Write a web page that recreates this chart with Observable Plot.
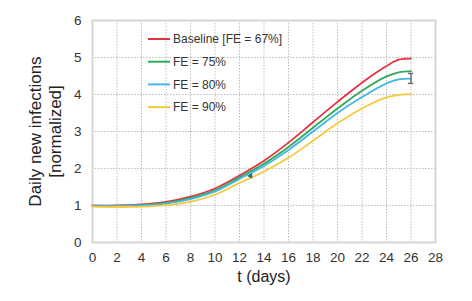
<!DOCTYPE html>
<html>
<head>
<meta charset="utf-8">
<script src="https://cdn.jsdelivr.net/npm/d3@7"></script>
<script src="https://cdn.jsdelivr.net/npm/@observablehq/plot@0.6"></script>
<style>
  html, body { margin: 0; padding: 0; background: #fff; }
  #chart { position: relative; width: 472px; height: 301px; }
  svg { font-family: "Liberation Sans", Arial, sans-serif; }
</style>
</head>
<body>
<div id="chart"></div>
<script>
// ---- data ----
const days      = [0, 2, 4, 6, 8, 10, 12, 14, 16, 18, 20, 22, 24, 25, 26];
const baseline  = [1.00, 1.00, 1.03, 1.10, 1.24, 1.46, 1.81, 2.21, 2.70, 3.25, 3.80, 4.32, 4.77, 4.94, 4.97];
const fe75      = [0.99, 0.99, 1.01, 1.07, 1.20, 1.41, 1.76, 2.13, 2.58, 3.10, 3.62, 4.10, 4.49, 4.60, 4.63];
const fe80      = [0.99, 0.98, 1.00, 1.05, 1.17, 1.38, 1.72, 2.07, 2.50, 3.00, 3.50, 3.93, 4.30, 4.41, 4.43];
const fe90      = [0.97, 0.96, 0.97, 1.01, 1.10, 1.29, 1.61, 1.92, 2.29, 2.75, 3.22, 3.62, 3.92, 3.99, 4.01];
const seriesNames  = ["Baseline [FE = 67%]", "FE = 75%", "FE = 80%", "FE = 90%"];
const seriesValues = [baseline, fe75, fe80, fe90];
const seriesColors = ["#e5323f", "#2faa5a", "#43b6e6", "#f5c93c"];
const xTicks = [0, 2, 4, 6, 8, 10, 12, 14, 16, 18, 20, 22, 24, 26, 28];
const yTicks = [0, 1, 2, 3, 4, 5, 6];
const errT = [26], errLow = [4.30], errHigh = [4.57];
const markT = [12.9], markV = [1.80];

// tidy table for the library
const rows = [];
seriesNames.forEach((name, i) => {
  days.forEach((t, j) => rows.push({series: name, t, v: seriesValues[i][j]}));
});
const errRows = errT.map((t, i) => ({t, lo: errLow[i], hi: errHigh[i]}));
const markRows = markT.map((t, i) => ({t, v: markV[i]}));

const capHalf = 0.22;
const grid = {stroke: "#bdbdbd", strokeOpacity: 1, strokeDasharray: "1.5,1.5", strokeWidth: 1};

const chart = Plot.plot({
  width: 472,
  height: 301,
  marginLeft: 92,
  marginRight: 37,
  marginTop: 20,
  marginBottom: 59,
  style: {fontFamily: '"Liberation Sans", Arial, sans-serif', fontSize: "13px", color: "#333", background: "#fff"},
  x: {domain: [0, 28]},
  y: {domain: [0, 6]},
  color: {domain: seriesNames, range: seriesColors},
  marks: [
    Plot.gridX(xTicks, {...grid}),
    Plot.gridY(yTicks, {...grid}),
    Plot.frame({stroke: "#d6d6d6", strokeWidth: 2}),
    Plot.axisX(xTicks, {tickSize: 0, tickPadding: 10, label: null, fontSize: 13.5, fill: "#333"}),
    Plot.axisY(yTicks, {tickSize: 0, tickPadding: 11, label: null, fontSize: 13.5, fill: "#333"}),
    Plot.line(rows, {x: "t", y: "v", z: "series", stroke: "series", strokeWidth: 1.8, curve: "catmull-rom"}),
    Plot.ruleX(errRows, {x: "t", y1: "lo", y2: "hi", stroke: "#6b6b6b", strokeWidth: 1.4}),
    Plot.ruleY(errRows, {y: "lo", x1: d => d.t - capHalf, x2: d => d.t + capHalf, stroke: "#6b6b6b", strokeWidth: 1.4}),
    Plot.ruleY(errRows, {y: "hi", x1: d => d.t - capHalf, x2: d => d.t + capHalf, stroke: "#6b6b6b", strokeWidth: 1.4}),
    Plot.dot(markRows, {x: "t", y: "v", symbol: "triangle", rotate: -90, r: 2.2, fill: "#2d6f69", stroke: "none"}),
    Plot.text(["t (days)"], {frameAnchor: "bottom", dy: 39, fontSize: 16, fill: "#222"}),
    Plot.text(["Daily new infections\n[normalized]"], {frameAnchor: "left", textAnchor: "middle", lineAnchor: "middle", dx: -48, rotate: -90, fontSize: 17, lineHeight: 1.2, fill: "#222"})
  ]
});

// legend inside the plot, drawn from the series arrays
const svg = d3.select(chart);
const lg = svg.append("g").attr("transform", "translate(148,39)");
seriesNames.forEach((name, i) => {
  const g = lg.append("g").attr("transform", `translate(0,${i * 22.7})`);
  g.append("line").attr("x1", 0).attr("x2", 22).attr("y1", 0).attr("y2", 0)
    .attr("stroke", seriesColors[i]).attr("stroke-width", 2);
  g.append("text").attr("x", 25).attr("y", 0).attr("dy", "0.35em")
    .attr("text-anchor", "start")
    .attr("font-size", 12).attr("fill", "#333").text(name);
});

document.getElementById("chart").appendChild(chart);
</script>
</body>
</html>
